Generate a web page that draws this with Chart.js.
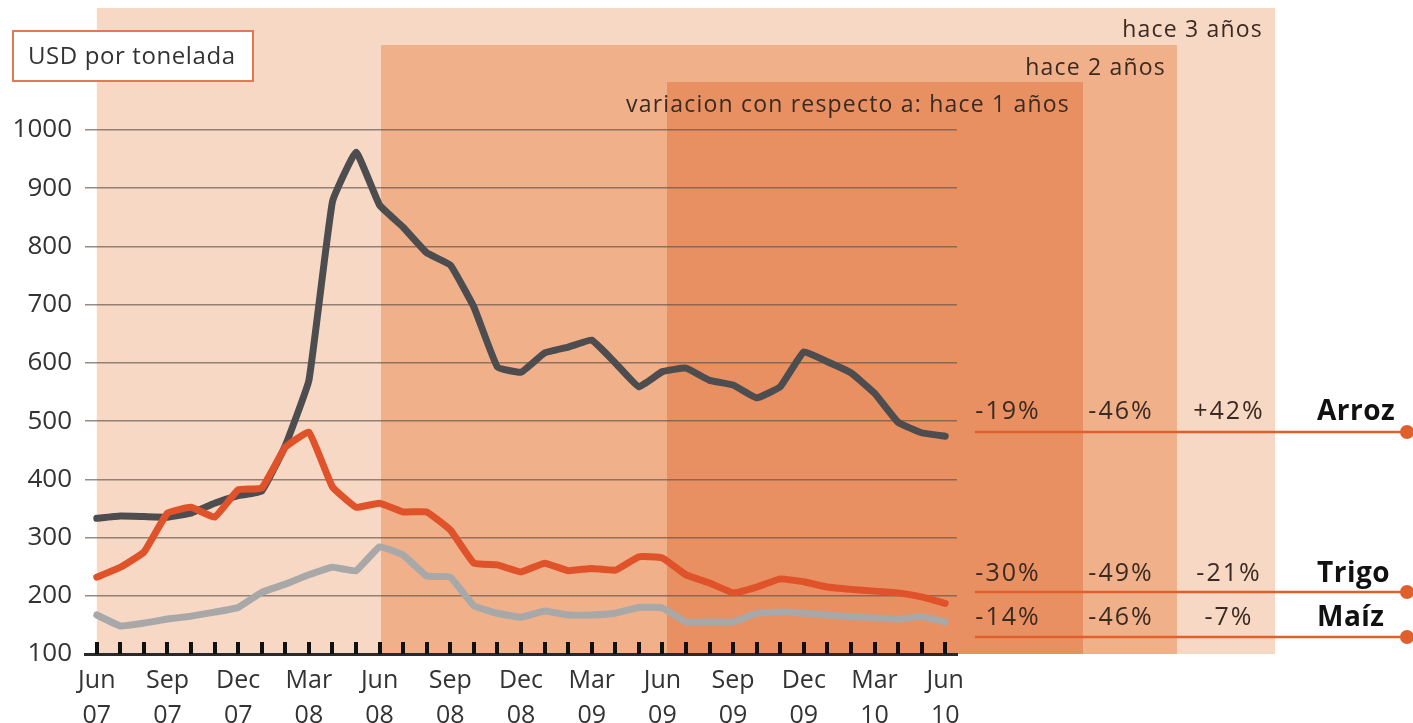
<!DOCTYPE html>
<html><head><meta charset="utf-8">
<script src="https://cdn.jsdelivr.net/npm/chart.js@4.4.1/dist/chart.umd.min.js"></script>
<style>html,body{margin:0;padding:0;background:#fff;overflow:hidden}#wrap{position:relative;width:1413px;height:723px}</style>
</head><body><div id="wrap"><canvas id="c" width="1413" height="723" style="width:1413px;height:723px"></canvas></div>
<script>
const categories = ['Jun 07','Jul 07','Aug 07','Sep 07','Oct 07','Nov 07','Dec 07','Jan 08','Feb 08','Mar 08','Apr 08','May 08','Jun 08','Jul 08','Aug 08','Sep 08','Oct 08','Nov 08','Dec 08','Jan 09','Feb 09','Mar 09','Apr 09','May 09','Jun 09','Jul 09','Aug 09','Sep 09','Oct 09','Nov 09','Dec 09','Jan 10','Feb 10','Mar 10','Apr 10','May 10','Jun 10'];
const shownMonths = ['Jun','Sep','Dec','Mar'];
const arroz = [333,337,336,335,342,359,372,380,458,570,877,962,871,833,789,768,696,593,584,617,627,639,600,559,585,591,570,562,540,559,619,602,583,548,498,480,474];
const trigo = [232,249,275,342,352,335,382,385,455,481,387,352,359,344,344,313,256,253,241,256,243,247,244,267,265,236,222,205,215,229,224,215,211,208,205,198,187];
const maiz  = [167,148,153,160,165,172,180,206,220,236,249,243,284,270,234,232,183,170,163,174,167,167,170,180,179,155,155,155,170,172,170,167,164,162,160,164,155];
const cropNames = ['Arroz','Trigo','Maíz'];
const change1y = ['-19%','-30%','-14%'];
const change2y = ['-46%','-49%','-46%'];
const change3y = ['+42%','-21%','-7%'];
const periodLabels = ['variacion con respecto a: hace 1 años','hace 2 años','hace 3 años'];
const unitLabel = 'USD por tonelada';
const yTicks = [100,200,300,400,500,600,700,800,900,1000];

const FONT = "'Open Sans', 'DejaVu Sans', sans-serif";
Chart.defaults.font.family = FONT;

const decor = {
  id: 'decor',
  beforeDraw(chart) {
    const ctx = chart.ctx, xs = chart.scales.x, ys = chart.scales.y;
    const bottom = ys.getPixelForValue(100);
    const bands = [
      {l: xs.getPixelForValue(0), r: 1275, t: 8,  c: '#F7D8C4'},
      {l: 381, r: 1177, t: 45, c: '#F0B08A'},
      {l: 667, r: 1083, t: 82, c: '#E89062'}
    ];
    ctx.save();
    bands.forEach(b => { ctx.fillStyle = b.c; ctx.fillRect(b.l, b.t, b.r - b.l, bottom - b.t); });
    ctx.fillStyle = '#3b2a22';
    ctx.font = '23px ' + FONT;
    ctx.letterSpacing = '1.2px';
    ctx.textAlign = 'right'; ctx.textBaseline = 'middle';
    ctx.fillText(periodLabels[2], 1263, 30);
    ctx.fillText(periodLabels[1], 1166, 68);
    ctx.fillText(periodLabels[0], 1070, 105);
    ctx.fillStyle = '#fff';
    ctx.fillRect(13, 31, 240, 50);
    ctx.strokeStyle = '#E07A55'; ctx.lineWidth = 2;
    ctx.strokeRect(13, 31, 240, 50);
    ctx.fillStyle = '#333';
    ctx.textAlign = 'left';
    ctx.font = '24px ' + FONT;
    ctx.letterSpacing = '0.6px';
    ctx.fillText(unitLabel, 28, 57);
    const rowText = [412, 574, 618], rowLine = [432, 592, 637];
    const cols = [1008, 1121, 1229];
    for (let i = 0; i < 3; i++) {
      ctx.strokeStyle = '#E0602C'; ctx.lineWidth = 2.5;
      ctx.beginPath(); ctx.moveTo(975, rowLine[i]); ctx.lineTo(1407, rowLine[i]); ctx.stroke();
      ctx.fillStyle = '#E0602C';
      ctx.beginPath(); ctx.arc(1407, rowLine[i], 7, 0, Math.PI * 2); ctx.fill();
      ctx.fillStyle = '#3b2a22'; ctx.font = '25px ' + FONT; ctx.textAlign = 'center';
      ctx.letterSpacing = '2px';
      ctx.fillText(change1y[i], cols[0], rowText[i]);
      ctx.fillText(change2y[i], cols[1], rowText[i]);
      ctx.fillText(change3y[i], cols[2], rowText[i]);
      ctx.fillStyle = '#111'; ctx.font = 'bold 28px ' + FONT; ctx.textAlign = 'left';
      ctx.letterSpacing = '0.5px';
      ctx.fillText(cropNames[i], 1317, rowText[i]);
    }
    ctx.restore();
  },
  afterDraw(chart) {
    const ctx = chart.ctx, xs = chart.scales.x, ys = chart.scales.y;
    const bottom = ys.getPixelForValue(100);
    ctx.save();
    ctx.fillStyle = '#111111';
    for (let i = 0; i < categories.length; i++) {
      const x = Math.round(xs.getPixelForValue(i));
      ctx.fillRect(x - 2, bottom - 12, 4, 12);
    }
    ctx.restore();
  }
};

new Chart(document.getElementById('c'), {
  type: 'line',
  data: {
    labels: categories,
    datasets: [
      {label: cropNames[1], data: trigo, borderColor: '#E0522A'},
      {label: cropNames[0], data: arroz, borderColor: '#4D4D4F'},
      {label: cropNames[2], data: maiz, borderColor: '#A8A8A8'}
    ].map(d => Object.assign(d, {borderWidth: 7, pointRadius: 0, tension: 0.1, borderJoinStyle: 'round', borderCapStyle: 'round', fill: false}))
  },
  options: {
    responsive: false, animation: false, devicePixelRatio: 1,
    layout: {padding: {left: 0, right: 456, top: 130, bottom: 0}},
    plugins: {legend: {display: false}, tooltip: {enabled: false}},
    scales: {
      x: {
        offset: true,
        grid: {offset: false, drawOnChartArea: false, drawTicks: false},
        border: {display: true, color: '#2a2a2a', width: 3},
        ticks: {
          autoSkip: false, maxRotation: 0, minRotation: 0, padding: 9, color: '#333',
          font: {size: 25, lineHeight: 1.4},
          callback(v, i) { const p = categories[i].split(' '); return shownMonths.includes(p[0]) ? p : ''; }
        },
        afterFit(s) { s.height = 69; }
      },
      xTicks: {
        type: 'category', axis: 'x', position: {y: 120}, offset: true,
        grid: {offset: false, drawOnChartArea: false, drawTicks: true, tickLength: 12, color: '#111', lineWidth: 3},
        border: {display: false},
        ticks: {display: false, autoSkip: false}
      },
      y: {
        min: 100, max: 1000,
        afterBuildTicks(s) { s.ticks = yTicks.map(v => ({value: v})); },
        grid: {drawTicks: false, color: 'rgba(95,80,72,0.65)', lineWidth: 1.5},
        border: {display: false},
        ticks: {padding: 13, color: '#333', font: {size: 26}, callback: v => String(v)},
        afterFit(s) { s.width = 85; }
      }
    }
  },
  plugins: [decor]
});
</script></body></html>
